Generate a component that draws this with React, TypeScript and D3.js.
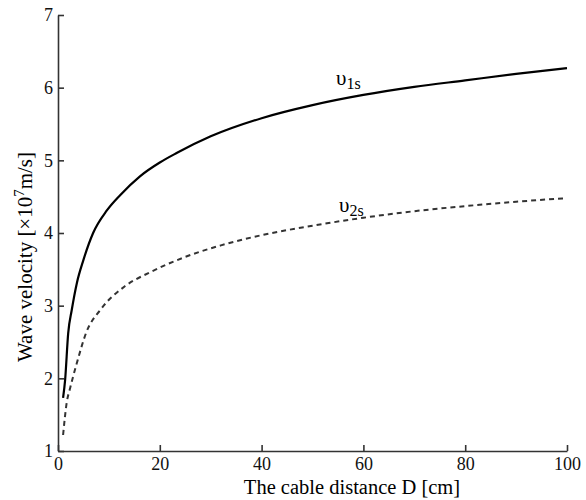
import React, { useEffect, useRef } from 'react';
import * as d3 from 'd3';

// distance D [cm] and wave velocity [x10^7 m/s]
const v1sDistance = [1, 1.4, 2, 2.7, 3.7, 5, 6.9, 9.6, 12.2, 16.1, 20, 23.3, 30, 40, 50, 60, 70, 80, 90, 100];
const v1sVelocity = [1.73, 1.98, 2.62, 2.94, 3.31, 3.63, 4.0, 4.31, 4.52, 4.78, 4.97, 5.1, 5.33, 5.58, 5.76, 5.9, 6.01, 6.1, 6.19, 6.27];

const v2sDistance = [1, 1.7, 2.4, 3.7, 5.6, 8.3, 13.2, 18.1, 24.6, 32, 40, 50, 60, 70, 80, 90, 100];
const v2sVelocity = [1.22, 1.66, 1.87, 2.21, 2.64, 2.94, 3.27, 3.46, 3.66, 3.83, 3.97, 4.1, 4.21, 4.3, 4.37, 4.43, 4.48];

const xTicks = [0, 20, 40, 60, 80, 100];
const yTicks = [1, 2, 3, 4, 5, 6, 7];

const W = 586;
const H = 500;

export default function App() {
  const ref = useRef<SVGSVGElement>(null);

  useEffect(() => {
    const svg = d3.select(ref.current);
    svg.selectAll('*').remove();

    const x = d3.scaleLinear().domain([0, 100]).range([58, 567]);
    const y = d3.scaleLinear().domain([1, 7]).range([451, 15]);

    // ticks point inward
    const gx = svg.append('g')
      .attr('transform', 'translate(0,451)')
      .call(d3.axisBottom(x).tickValues(xTicks).tickFormat(d3.format('d'))
        .tickSizeInner(-6).tickSizeOuter(0).tickPadding(6));
    const gy = svg.append('g')
      .attr('transform', 'translate(58,0)')
      .call(d3.axisLeft(y).tickValues(yTicks).tickFormat(d3.format('d'))
        .tickSizeInner(-6).tickSizeOuter(0).tickPadding(5));

    [gx, gy].forEach(g => {
      g.attr('font-family', null).attr('font-size', 18);
      g.select('.domain').attr('stroke', '#333').attr('stroke-width', 1.6);
      g.selectAll('.tick line').attr('stroke', '#333').attr('stroke-width', 1.6);
      g.selectAll('.tick text').attr('fill', '#111');
    });

    const line = d3.line<[number, number]>()
      .x(d => x(d[0]))
      .y(d => y(d[1]))
      .curve(d3.curveMonotoneX);

    const s1 = v1sDistance.map((d, i) => [d, v1sVelocity[i]] as [number, number]);
    const s2 = v2sDistance.map((d, i) => [d, v2sVelocity[i]] as [number, number]);

    svg.append('path')
      .attr('d', line(s1))
      .attr('fill', 'none')
      .attr('stroke', '#000')
      .attr('stroke-width', 2.2);

    svg.append('path')
      .attr('d', line(s2))
      .attr('fill', 'none')
      .attr('stroke', '#333')
      .attr('stroke-width', 2)
      .attr('stroke-dasharray', '5,4');

    // curve labels
    const lab1 = svg.append('text').attr('x', 336).attr('y', 85).attr('font-size', 21);
    lab1.append('tspan').text('υ');
    lab1.append('tspan').attr('dy', 4).attr('font-size', 16).text('1s');

    const lab2 = svg.append('text').attr('x', 339).attr('y', 212).attr('font-size', 21);
    lab2.append('tspan').text('υ');
    lab2.append('tspan').attr('dy', 4).attr('font-size', 16).text('2s');

    // axis titles
    svg.append('text')
      .attr('x', 352).attr('y', 494)
      .attr('text-anchor', 'middle')
      .attr('font-size', 20.5)
      .text('The cable distance D [cm]');

    const yt = svg.append('text')
      .attr('transform', 'translate(32,257) rotate(-90)')
      .attr('text-anchor', 'middle')
      .attr('font-size', 21);
    yt.append('tspan').text('Wave velocity [×10');
    yt.append('tspan').attr('dy', -8).attr('font-size', 15).text('7');
    yt.append('tspan').attr('dy', 8).text('m/s]');
  }, []);

  return (
    <svg ref={ref} width={W} height={H}
      style={{ position: 'absolute', left: 0, top: 0, background: '#fff', fontFamily: '"Liberation Serif", serif' }} />
  );
}
